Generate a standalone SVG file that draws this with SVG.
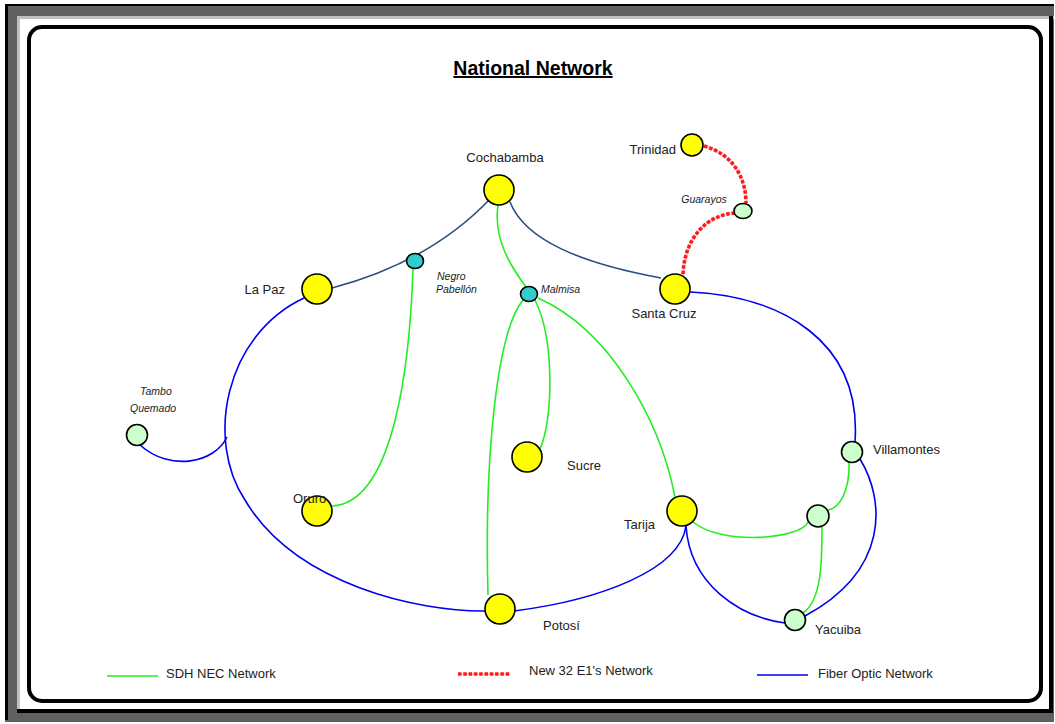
<svg xmlns="http://www.w3.org/2000/svg" width="1055" height="724" viewBox="0 0 1055 724">
<style>
.lbl{font-family:"Liberation Sans",Arial,sans-serif;font-size:13px;fill:#222}
.it{font-family:"Liberation Sans",Arial,sans-serif;font-size:10.5px;font-style:italic;fill:#222}
.big{fill:#ffff00;stroke:#000;stroke-width:1.6}
.sm{fill:#ccffcc;stroke:#000;stroke-width:1.6}
.tl{fill:#33cccc;stroke:#000;stroke-width:1.6}
.sdh{fill:none;stroke:#22ee22;stroke-width:1.6}
.fib{fill:none;stroke:#0000ee;stroke-width:1.6}
.db{fill:none;stroke:#2a4f80;stroke-width:1.6}
.e1o{fill:none;stroke:#ffcccc;stroke-width:2}
.e1{fill:none;stroke:#ff1a1a;stroke-width:3.6;stroke-dasharray:3.5 1.8}
</style>
<rect width="1055" height="724" fill="#fff"/>
<g id="frame">
<rect x="5" y="5" width="1049" height="717" fill="#606060"/>
<rect x="5" y="4" width="1049" height="2" fill="#000"/>
<rect x="5" y="4" width="3" height="716" fill="#000"/>
<rect x="17" y="16" width="1037" height="3" fill="#c0c0c0"/>
<rect x="17" y="16" width="3" height="694" fill="#c0c0c0"/>
<rect x="20" y="19" width="1029" height="690" fill="#fff"/>
<rect x="1049" y="16" width="4" height="697" fill="#000"/>
<rect x="17" y="709" width="1036" height="4" fill="#000"/>
<rect x="29" y="27" width="1012" height="674" rx="13" fill="#fff" stroke="#000" stroke-width="4"/>
</g>
<text x="533" y="75" text-anchor="middle" style="font-family:'Liberation Sans',Arial,sans-serif;font-size:19.5px;font-weight:bold;text-decoration:underline" fill="#000">National Network</text>
<g id="connectors">
<path class="db" d="M332,288 Q430,262 490,199"/>
<path class="db" d="M510,202 C525,240 580,263 661,278"/>
<path class="fib" d="M304,298 C225,335 205,440 245,500 C295,585 420,612 486,611"/>
<path class="fib" d="M140,445 C170,472 215,463 227,437"/>
<path class="fib" d="M514,611 C600,600 680,570 686,526"/>
<path class="fib" d="M686,526 C690,585 740,617 785,623"/>
<path class="fib" d="M690,292 C780,296 862,340 855,442"/>
<path class="fib" d="M860,459 C885,500 890,570 805,616"/>
<path class="sdh" d="M413,269 C410,360 395,503 332,506"/>
<path class="sdh" d="M498,205 C493,240 512,268 526,287"/>
<path class="sdh" d="M523,300 C498,330 484,450 488,595"/>
<path class="sdh" d="M535,300 C555,340 553,420 540,449"/>
<path class="sdh" d="M538,298 C610,330 660,420 675,497"/>
<path class="sdh" d="M693,522 C720,545 800,540 808,522"/>
<path class="sdh" d="M849,462 C850,490 840,508 828,510"/>
<path class="sdh" d="M822,527 C822,560 822,600 803,613"/>
<path class="e1o" d="M704,146 C735,155 746,180 746,203"/>
<path class="e1" d="M704,146 C735,155 746,180 746,203"/>
<path class="e1o" d="M735,213 C705,215 684,240 683,275"/>
<path class="e1" d="M735,213 C705,215 684,240 683,275"/>
</g>
<g id="cochabamba"><circle class="big" cx="499" cy="190" r="15"/><text class="lbl" x="505" y="162" text-anchor="middle">Cochabamba</text></g>
<g id="trinidad"><circle class="big" cx="692" cy="145" r="11"/><text class="lbl" x="676" y="154" text-anchor="end">Trinidad</text></g>
<g id="guarayos"><ellipse class="sm" cx="743" cy="211" rx="9" ry="7.5"/><text class="it" x="704" y="203" text-anchor="middle">Guarayos</text></g>
<g id="santacruz"><circle class="big" cx="675" cy="289" r="15"/><text class="lbl" x="664" y="318" text-anchor="middle">Santa Cruz</text></g>
<g id="lapaz"><circle class="big" cx="317" cy="289" r="15"/><text class="lbl" x="285" y="294" text-anchor="end">La Paz</text></g>
<g id="negropabellon"><ellipse class="tl" cx="415" cy="261" rx="8.5" ry="7.5"/><text class="it" x="437" y="280">Negro</text><text class="it" x="436" y="293">Pabellón</text></g>
<g id="malmisa"><ellipse class="tl" cx="529" cy="294" rx="8.5" ry="7.5"/><text class="it" x="541" y="293">Malmisa</text></g>
<g id="tamboquemado"><circle class="sm" cx="137" cy="435" r="10.5"/><text class="it" x="140" y="395">Tambo</text><text class="it" x="130" y="412">Quemado</text></g>
<g id="sucre"><circle class="big" cx="527" cy="457" r="15"/><text class="lbl" x="567" y="470">Sucre</text></g>
<g id="oruro"><circle class="big" cx="317" cy="511" r="15"/><text class="lbl" x="293" y="503">Oruro</text></g>
<g id="tarija"><circle class="big" cx="682" cy="511" r="15"/><text class="lbl" x="624" y="529">Tarija</text></g>
<g id="villamontes"><circle class="sm" cx="852" cy="452" r="10.5"/><text class="lbl" x="873" y="454">Villamontes</text></g>
<g id="junction"><circle class="sm" cx="818" cy="516" r="11"/></g>
<g id="yacuiba"><circle class="sm" cx="795" cy="620" r="10.5"/><text class="lbl" x="815" y="634">Yacuiba</text></g>
<g id="potosi"><circle class="big" cx="500" cy="609" r="15"/><text class="lbl" x="543" y="630">Potosí</text></g>
<g id="legend">
<line class="sdh" x1="107" y1="676" x2="158" y2="676" stroke-width="2"/>
<text class="lbl" x="166" y="678">SDH NEC Network</text>
<line class="e1o" x1="458" y1="674" x2="510" y2="674"/>
<line class="e1" x1="458" y1="674" x2="510" y2="674" stroke-width="3.2"/>
<text class="lbl" x="529" y="675">New 32 E1's Network</text>
<line class="fib" x1="757" y1="675" x2="808" y2="675"/>
<text class="lbl" x="818" y="678">Fiber Optic Network</text>
</g>
</svg>
